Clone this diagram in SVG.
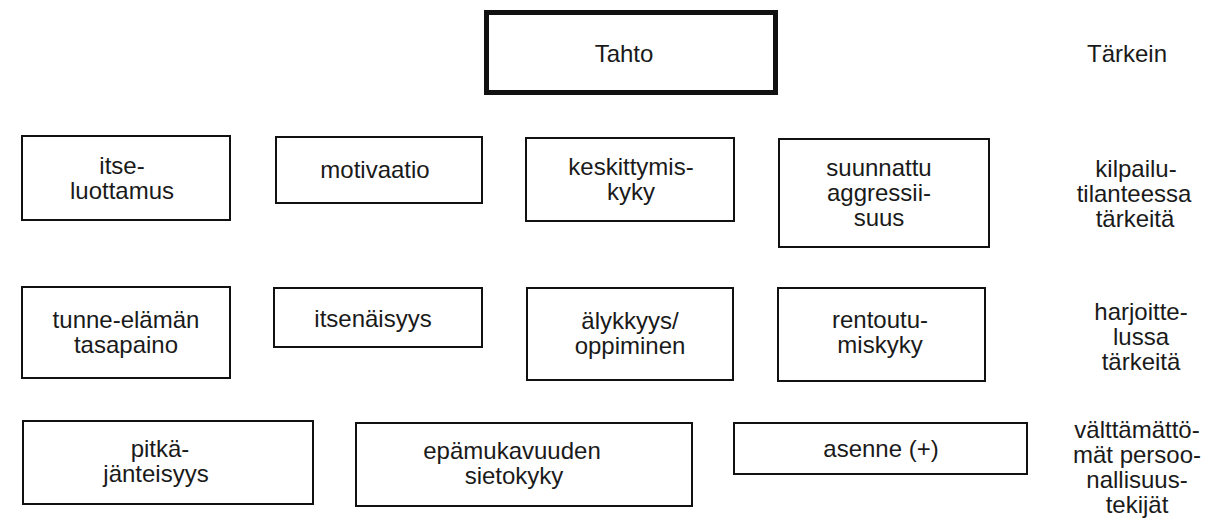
<svg xmlns="http://www.w3.org/2000/svg" width="1208" height="519" viewBox="0 0 1208 519">
<style>
rect.box{fill:#fff;stroke:#111;stroke-width:2}
rect.main{fill:#fff;stroke:#111;stroke-width:5}
text{font-family:"Liberation Sans",Arial,sans-serif;font-size:24px;fill:#1a1a1a;text-anchor:middle}
</style>
<rect x="0" y="0" width="1208" height="519" fill="#fff"/>
<g id="connectors"></g>
<g id="tahto">
<rect class="main" x="486.5" y="12.5" width="289" height="80"/>
<text x="624" y="62">Tahto</text>
</g>
<g id="itseluottamus">
<rect class="box" x="22" y="136" width="208" height="84"/>
<text x="122" y="174">itse-</text>
<text x="122" y="199">luottamus</text>
</g>
<g id="motivaatio">
<rect class="box" x="276" y="137" width="206" height="66"/>
<text x="375" y="178">motivaatio</text>
</g>
<g id="keskittymiskyky">
<rect class="box" x="526" y="138" width="208" height="83"/>
<text x="631" y="175">keskittymis-</text>
<text x="631" y="200">kyky</text>
</g>
<g id="aggressiivisuus">
<rect class="box" x="779" y="139" width="210" height="108"/>
<text x="879" y="176">suunnattu</text>
<text x="879" y="201">aggressii-</text>
<text x="879" y="226">suus</text>
</g>
<g id="tunne-elaman-tasapaino">
<rect class="box" x="22" y="287" width="208" height="91"/>
<text x="126" y="328">tunne-elämän</text>
<text x="126" y="353">tasapaino</text>
</g>
<g id="itsenaisyys">
<rect class="box" x="274" y="288" width="208" height="59"/>
<text x="373" y="327">itsenäisyys</text>
</g>
<g id="alykkyys">
<rect class="box" x="527" y="288" width="206" height="92"/>
<text x="630" y="329">älykkyys/</text>
<text x="630" y="354">oppiminen</text>
</g>
<g id="rentoutumiskyky">
<rect class="box" x="778" y="288" width="207" height="93"/>
<text x="880" y="328">rentoutu-</text>
<text x="880" y="353">miskyky</text>
</g>
<g id="pitkajanteisyys">
<rect class="box" x="23" y="421" width="290" height="83"/>
<text x="160" y="457">pitkä-</text>
<text x="156" y="482">jänteisyys</text>
</g>
<g id="epamukavuuden-sietokyky">
<rect class="box" x="356" y="423" width="336" height="83"/>
<text x="512" y="459">epämukavuuden</text>
<text x="514" y="484">sietokyky</text>
</g>
<g id="asenne">
<rect class="box" x="734" y="423" width="293" height="51"/>
<text x="881" y="457">asenne (+)</text>
</g>
<g id="labels">
<text x="1127" y="62">Tärkein</text>
<text x="1136" y="177">kilpailu-</text>
<text x="1134" y="202">tilanteessa</text>
<text x="1135" y="227">tärkeitä</text>
<text x="1141" y="320">harjoitte-</text>
<text x="1141" y="345">lussa</text>
<text x="1141" y="370">tärkeitä</text>
<text x="1137" y="438">välttämättö-</text>
<text x="1137" y="463">mät persoo-</text>
<text x="1137" y="488">nallisuus-</text>
<text x="1137" y="513">tekijät</text>
</g>
</svg>
